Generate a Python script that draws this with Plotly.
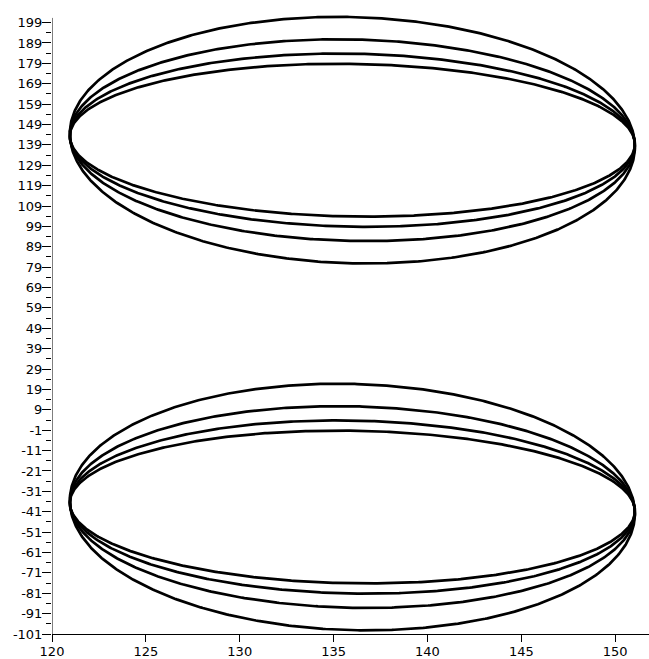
import numpy as np
import plotly.graph_objects as go

# Loop parameters: two families of closed loops sharing the same x extent
center_x = 136.0
radius_x = 15.05
phase = 0.053                      # small phase lag that tilts each loop
centers_y = [141.3, -38.7]         # vertical centres of the upper and lower families
radii_y = [60.5, 49.5, 42.5, 37.5]  # vertical half-heights of the loops in each family

x_ticks = [120, 125, 130, 135, 140, 145, 150]
y_ticks = list(range(-101, 200, 10))
x_range = [120, 151.8]
y_range = [-101, 204.2]
y_axis_top = 201.3

t = np.linspace(0, 2 * np.pi, 721)

fig = go.Figure()
for cy in centers_y:
    for ry in radii_y:
        fig.add_trace(go.Scatter(
            x=center_x + radius_x * np.cos(t + phase),
            y=cy + ry * np.sin(t),
            mode="lines",
            line=dict(color="black", width=2.7),
            hoverinfo="skip",
            showlegend=False,
        ))

tick_font = dict(family="DejaVu Sans, Verdana, sans-serif", size=13, color="black")

fig.update_xaxes(
    range=x_range,
    tickvals=x_ticks,
    ticktext=[str(v) for v in x_ticks],
    ticks="outside", ticklen=7, tickwidth=1, tickcolor="black",
    showline=True, linecolor="black", linewidth=1,
    showgrid=False, zeroline=False,
    tickfont=tick_font,
    ticklabelstandoff=-2,
)
fig.update_yaxes(
    range=y_range,
    tickvals=y_ticks,
    ticktext=[str(v) for v in y_ticks],
    ticks="outside", ticklen=9, tickwidth=1, tickcolor="black",
    minor=dict(tickvals=[v + 5 for v in y_ticks[:-1]], ticks="outside",
               ticklen=5, tickwidth=1, tickcolor="black", showgrid=False),
    showline=False,
    showgrid=False, zeroline=False,
    tickfont=tick_font,
    ticklabelstandoff=-3,
)

# Vertical axis spine stopping just above the top tick
fig.add_shape(type="line", xref="x", yref="y",
              x0=x_range[0], x1=x_range[0], y0=y_range[0], y1=y_axis_top,
              line=dict(color="black", width=1))

fig.update_layout(
    width=649, height=659,
    margin=dict(l=52, r=0, t=12, b=25),
    paper_bgcolor="white", plot_bgcolor="white",
)

fig.write_html("out.html")
